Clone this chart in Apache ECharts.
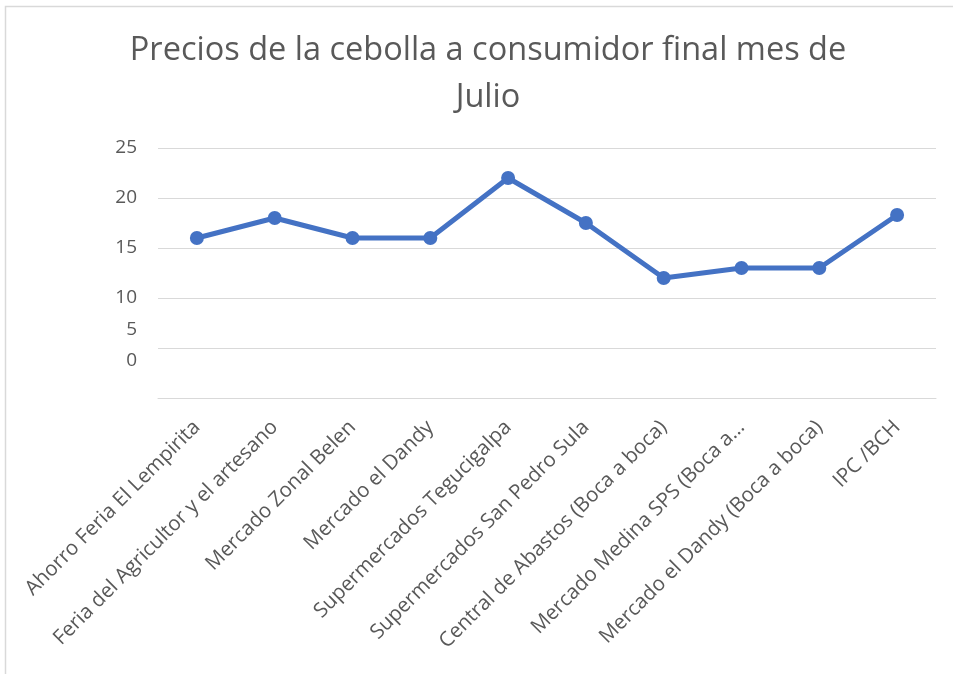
<!DOCTYPE html>
<html>
<head>
<meta charset="utf-8">
<script src="https://cdn.jsdelivr.net/npm/echarts@6/dist/echarts.min.js"></script>
<style>html,body{margin:0;padding:0;background:#fff}#c{width:953px;height:674px}</style>
</head>
<body>
<div id="c"></div>
<script>
const titleText = 'Precios de la cebolla a consumidor final mes de\nJulio';
const categories = [
  'Ahorro Feria El Lempirita',
  'Feria del Agricultor y el artesano',
  'Mercado Zonal Belen',
  'Mercado el Dandy',
  'Supermercados Tegucigalpa',
  'Supermercados San Pedro Sula',
  'Central de Abastos (Boca a boca)',
  'Mercado Medina SPS (Boca a…',
  'Mercado el Dandy (Boca a boca)',
  'IPC /BCH'
];
const prices = [16, 18, 16, 16, 22, 17.5, 12, 13, 13, 18.3];
const yMin = 0, yMax = 25, yStep = 5;

const chart = echarts.init(document.getElementById('c'));
const FONT = '"Open Sans", Lato, sans-serif';
chart.setOption({
  animation: false,
  backgroundColor: '#fff',
  graphic: [{
    type: 'rect', left: 3, top: 4, shape: {width: 1000, height: 800},
    style: {fill: 'none', stroke: '#d9d9d9', lineWidth: 1.5}, silent: true
  }],
  title: {
    text: titleText, left: 483, top: 22, textAlign: 'center',
    textStyle: {fontFamily: FONT, fontSize: 32.5, fontWeight: 'normal', color: '#595959', lineHeight: 47}
  },
  grid: {left: 158, right: 17, top: 148, bottom: 276, containLabel: false},
  xAxis: {
    type: 'category', data: categories, boundaryGap: true,
    axisLine: {lineStyle: {color: '#d9d9d9', width: 1}},
    axisTick: {show: false},
    axisLabel: {rotate: 45, interval: 0, margin: 26, fontFamily: FONT, fontSize: 20.5, color: '#595959'}
  },
  yAxis: {
    type: 'value', min: yMin, max: yMax, interval: yStep,
    axisLine: {show: false}, axisTick: {show: false},
    splitLine: {lineStyle: {color: '#d9d9d9', width: 1}},
    axisLabel: {
      margin: 21, fontFamily: FONT, fontSize: 19, color: '#595959',
      formatter: function (v) {
        if (v === 5) return '{a|5}';
        if (v === 0) return '{b|0}';
        return String(v);
      },
      rich: {
        a: {fontFamily: FONT, fontSize: 19, color: '#595959', padding: [0, 0, 36, 0]},
        b: {fontFamily: FONT, fontSize: 19, color: '#595959', padding: [0, 0, 74, 0]}
      }
    }
  },
  series: [{
    type: 'line', data: prices,
    symbol: 'circle', symbolSize: 14,
    lineStyle: {color: '#4472C4', width: 5},
    itemStyle: {color: '#4472C4'}
  }]
});
</script>
</body>
</html>
